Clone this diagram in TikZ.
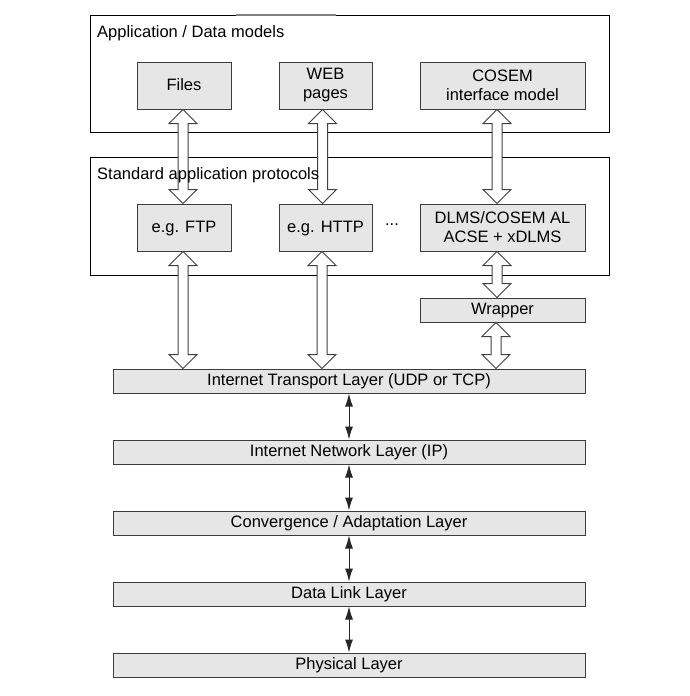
\documentclass[tikz,border=0pt]{standalone}
\usepackage{fontspec}
\setmainfont{Liberation Sans}
\usetikzlibrary{calc,arrows.meta}

\definecolor{boxfill}{RGB}{230,230,230}
\definecolor{boxline}{RGB}{60,60,60}

\tikzset{
  panel/.style={draw=black, line width=1pt, fill=white, minimum width=519pt, inner sep=0pt},
  gbox/.style={draw=boxline, line width=1pt, fill=boxfill, inner sep=0pt, align=center,
               minimum height=47pt},
  oneline/.style={text height=12pt, text depth=2.5pt},
  layer/.style={gbox, oneline, minimum width=472pt, minimum height=24pt},
  title/.style={anchor=base west, inner sep=0pt},
  hollow/.style={draw=black!75, line width=1pt, fill=white, line join=miter},
  thin arrow/.style={draw=black!85, line width=1pt,
                     {Latex[length=13pt,width=8pt]}-{Latex[length=13pt,width=8pt]}},
}

% hollow double block arrow: x from #1, runs from y of #1 down to y of #2
\newcommand{\blockarrow}[2]{%
  \path[hollow] let \p1=#1, \p2=#2 in
    (\x1,\y1) -- (\x1+14pt,\y1-14pt) -- (\x1+5pt,\y1-14pt) -- (\x1+5pt,\y2+14pt)
    -- (\x1+14pt,\y2+14pt) -- (\x1,\y2) -- (\x1-14pt,\y2+14pt) -- (\x1-5pt,\y2+14pt)
    -- (\x1-5pt,\y1-14pt) -- (\x1-14pt,\y1-14pt) -- cycle;}

\begin{document}
\begin{tikzpicture}[x=1pt,y=-1pt,font=\fontsize{16.5}{19}\selectfont]
\useasboundingbox (0,0) rectangle (689,696);

% outer panels
\node[panel, minimum height=117pt] (apppanel) at (349.5,73.5) {};
\node[panel, minimum height=118pt] (protopanel) at (349.5,216) {};
\draw[black!50, line width=2pt] (236,14.5) -- (336,14.5);

% application / data model boxes
\node[gbox, oneline, minimum width=94pt] (files) at (184,85.5) {Files};
\node[gbox, minimum width=93pt] (web) at (325.5,85.5) {WEB\\pages};
\node[gbox, minimum width=165pt] (cosem) at (502.5,85.5) {COSEM\\interface model};

% protocol boxes
\node[gbox, oneline, minimum width=94pt] (ftp) at (184,227.5) {e.g. FTP};
\node[gbox, oneline, minimum width=93pt] (http) at (325.5,227.5) {e.g. HTTP};
\node[gbox, minimum width=165pt] (dlms) at (502.5,227.5) {DLMS/COSEM AL\\ACSE + xDLMS};
\node[inner sep=0pt] (dots) at (392,225) {...};
\node[gbox, oneline, minimum width=165pt, minimum height=24pt] (wrapper) at (502.5,310) {Wrapper};

% communication layers
\node[layer] (transport) at (349,381) {Internet Transport Layer (UDP or TCP)};
\node[layer] (network) at (349,452) {Internet Network Layer (IP)};
\node[layer] (convergence) at (349,523) {Convergence / Adaptation Layer};
\node[layer] (datalink) at (349,594) {Data Link Layer};
\node[layer] (physical) at (349,665) {Physical Layer};

% hollow block arrows
\blockarrow{([xshift=-1pt]files.south)}{(ftp.north)}
\blockarrow{([xshift=-3pt]web.south)}{(http.north)}
\blockarrow{([xshift=-5.5pt]cosem.south)}{(dlms.north)}
\blockarrow{([xshift=-1pt]ftp.south)}{(transport.north)}
\blockarrow{([xshift=-3.5pt]http.south)}{(transport.north)}
\blockarrow{([xshift=-5.5pt]dlms.south)}{(wrapper.north)}
\blockarrow{([xshift=-6.5pt]wrapper.south)}{(transport.north)}

% panel titles
\node[title] (apptitle) at (97,37) {Application / Data models};
\node[title] (prototitle) at (97,179) {Standard application protocols};

% layer-to-layer arrows
\draw[thin arrow] (transport.south) -- (network.north);
\draw[thin arrow] (network.south) -- (convergence.north);
\draw[thin arrow] (convergence.south) -- (datalink.north);
\draw[thin arrow] (datalink.south) -- (physical.north);
\end{tikzpicture}
\end{document}
